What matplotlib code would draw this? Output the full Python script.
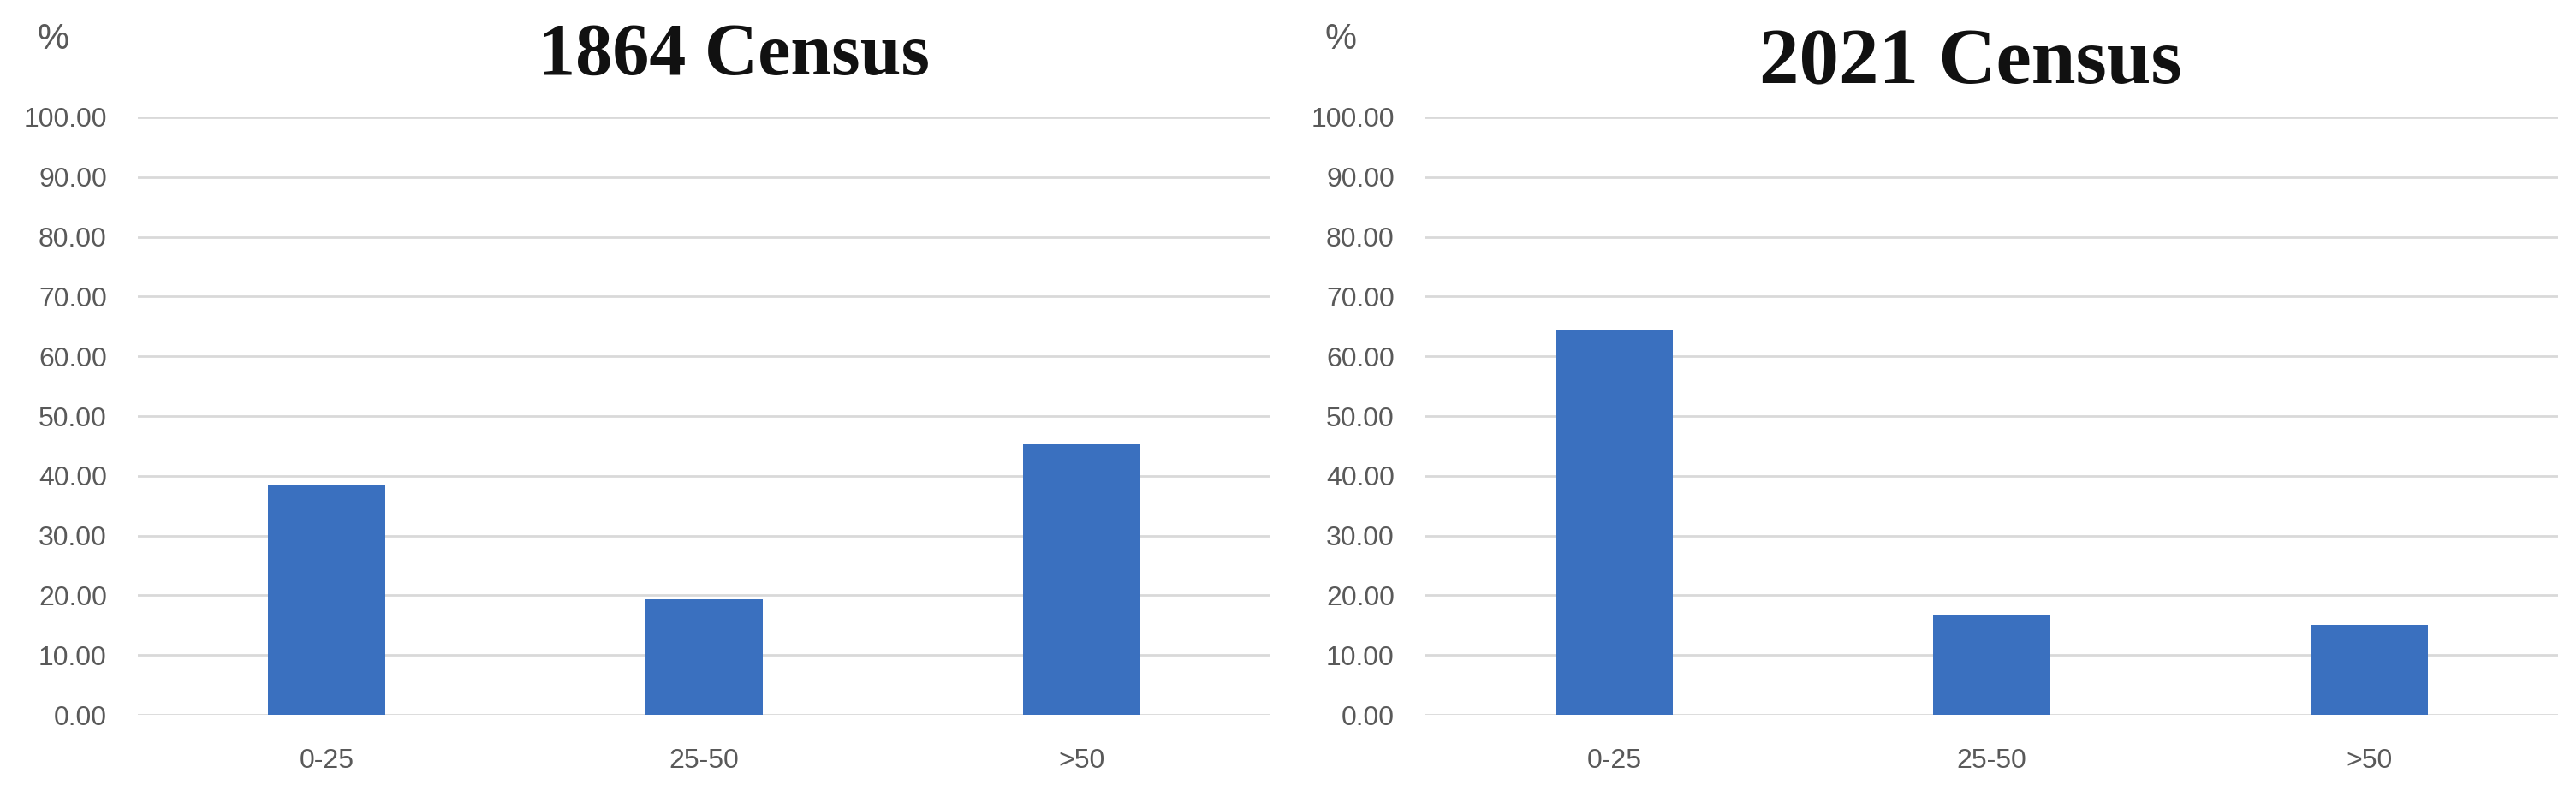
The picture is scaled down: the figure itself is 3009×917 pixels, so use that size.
import matplotlib.pyplot as plt
import numpy as np

# Age group shares (%)
age_groups = ['0-25', '25-50', '>50']
census_1864 = [38.4, 19.4, 45.3]
census_2021 = [64.4, 16.8, 15.0]
y_ticks = [0, 10, 20, 30, 40, 50, 60, 70, 80, 90, 100]

bar_color = '#3A70BF'
grid_color = '#D9D9D9'
text_color = '#595959'

plt.rcParams['font.family'] = ['Liberation Sans', 'DejaVu Sans']

fig = plt.figure(figsize=(30.09, 9.17), dpi=100)

panels = [
    (0.0535, '1864 Census', census_1864, 62, 0.285, 0.905),
    (0.5533, '2021 Census', census_2021, 67, 0.765, 0.894),
]

for left, title, values, title_size, title_x, title_y in panels:
    ax = fig.add_axes([left, 0.0894, 0.4398, 0.7612])
    x = np.arange(len(age_groups))
    ax.bar(x, values, width=0.31, color=bar_color, zorder=3)
    ax.set_xlim(-0.5, len(age_groups) - 0.5)
    ax.set_ylim(0, 100)
    ax.set_yticks(y_ticks)
    ax.set_yticklabels([f'{v:.2f}' for v in y_ticks])
    ax.set_xticks(x)
    ax.set_xticklabels(age_groups)
    ax.yaxis.grid(True, color=grid_color, linewidth=2, zorder=0)
    ax.set_axisbelow(True)
    for s in ax.spines.values():
        s.set_visible(False)
    ax.tick_params(axis='y', length=0, pad=26, labelsize=23, labelcolor=text_color)
    ax.tick_params(axis='x', length=0, pad=28, labelsize=23, labelcolor=text_color)
    fig.text(title_x, title_y, title, ha='center', va='baseline', fontsize=title_size,
             fontweight='bold', family='Liberation Serif', color='#111111')
    fig.text(left - 0.033, 0.95, '%', ha='center', va='center', fontsize=30,
             color=text_color)

fig.savefig('out.png', dpi=100, facecolor='white')
